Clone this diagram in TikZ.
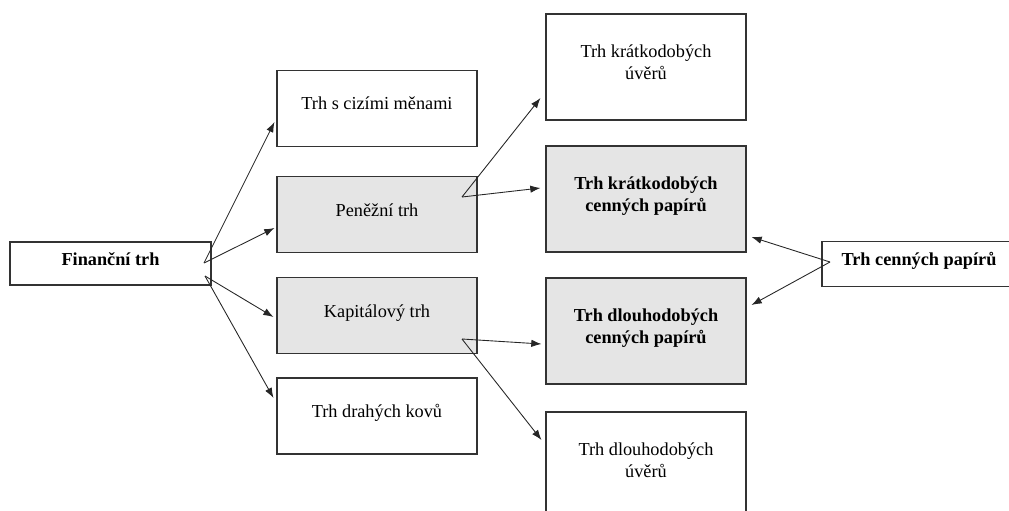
\documentclass[tikz,border=0pt]{standalone}
\usepackage{fontspec}
\setmainfont{Liberation Serif}
\usepackage{tikz}
\usetikzlibrary{arrows.meta,calc}
\definecolor{boxgray}{gray}{0.9}
\definecolor{linegray}{gray}{0.2}

\begin{document}
\fontsize{10.4}{12}\selectfont
\begin{tikzpicture}[x=0.02cm,y=-0.02cm,>={Latex[length=5.8pt,width=4.2pt]},
        market/.style={draw=linegray,line width=0.6pt,minimum width=4cm,minimum height=1.52cm,
            inner sep=0pt,align=center,text depth=5.5pt},
        tall/.style={market,minimum height=2.12cm},
        shaded/.style={fill=boxgray},
        link/.style={->,line width=0.5pt,draw=black!85}]
        % fix the frame of the picture
        \useasboundingbox (0,0) rectangle (1009,511);
        \clip (0,0) rectangle (1009,511);

        % draw the markets
        \node[market,minimum width=4.02cm,minimum height=0.86cm,font=\bfseries] (fin) at (110.5,263.5) {Finanční trh};
        \node[market] (cizi) at (377,108.3) {Trh s cizími měnami};
        \node[market,shaded] (pen) at (377,214.7) {Peněžní trh};
        \node[market,shaded] (kap) at (377,315.7) {Kapitálový trh};
        \node[market] (kovy) at (377,416) {Trh drahých kovů};
        \node[tall] (kuv) at (646,67) {Trh krátkodobých\\úvěrů};
        \node[tall,shaded,font=\bfseries] (kcp) at (646,199) {Trh krátkodobých\\cenných papírů};
        \node[tall,shaded,font=\bfseries] (dcp) at (646,331) {Trh dlouhodobých\\cenných papírů};
        \node[tall] (duv) at (646,465) {Trh dlouhodobých\\úvěrů};
        \node[market,minimum width=3.88cm,minimum height=0.9cm,font=\bfseries] (tcp) at (919,264) {Trh cenných papírů};

        % the points the arrows start from
        \coordinate (finA) at (204,263);
        \coordinate (finB) at (205,276);
        \coordinate (penA) at (462,197);
        \coordinate (kapA) at (462,339);
        \coordinate (tcpA) at (830,262);

        % draw the arrows
        \foreach \src/\dst/\dx/\dy in {
            finA/cizi.west/-2/13.7,
            finA/pen.west/-2/13.3,
            finB/kap.west/-3/1.3,
            finB/kovy.west/-3/-18,
            penA/kuv.west/-5/31,
            penA/kcp.west/-5/-11,
            kapA/dcp.west/-4/13,
            kapA/duv.west/-4/-25,
            tcpA/kcp.east/5/38,
            tcpA/dcp.east/5/-26}
                \draw[link] (\src) -- ($(\dst)+(\dx,\dy)$);
\end{tikzpicture}
\end{document}
